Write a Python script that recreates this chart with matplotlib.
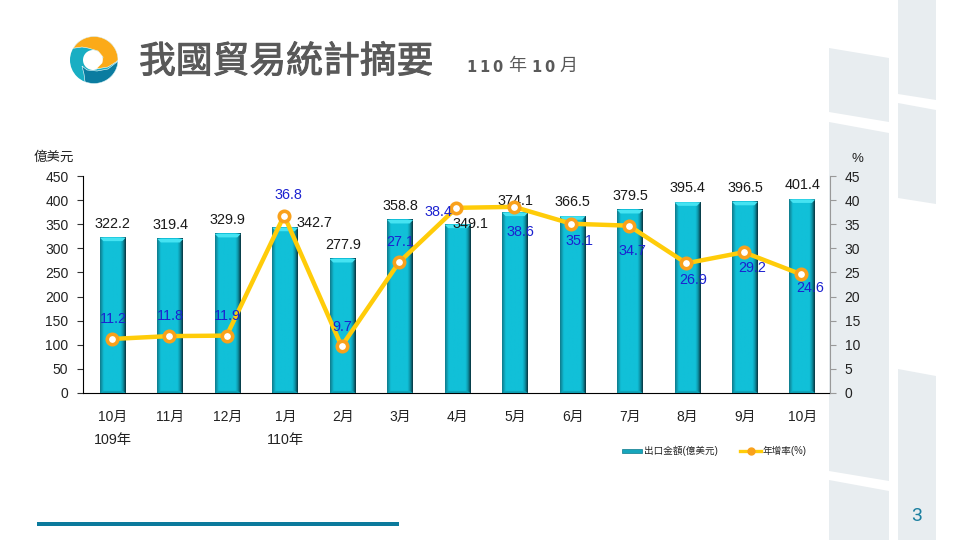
import numpy as np
import matplotlib
matplotlib.use("Agg")
import matplotlib.pyplot as plt
import matplotlib.patheffects as pe
from matplotlib.colors import LinearSegmentedColormap
from matplotlib.lines import Line2D
from matplotlib.patches import Patch, Polygon, Ellipse, Rectangle

plt.rcParams['font.family'] = ['Liberation Sans', 'Noto Sans CJK TC']

months = ['10月', '11月', '12月', '1月', '2月', '3月', '4月', '5月', '6月', '7月', '8月', '9月', '10月']
exports = [322.2, 319.4, 329.9, 342.7, 277.9, 358.8, 349.1, 374.1, 366.5, 379.5, 395.4, 396.5, 401.4]
growth = [11.2, 11.8, 11.9, 36.8, 9.7, 27.1, 38.4, 38.6, 35.1, 34.7, 26.9, 29.2, 24.6]
# label offsets from the mark, in pixels (dx, dy upward)
export_off = [(0, 14), (0, 14), (0, 14), (29, 5), (0, 14), (0, 14), (13, 1), (0, 12), (0, 14), (0, 14), (0, 14), (0, 14), (0, 14)]
growth_off = [(0, 20), (0, 20), (0, 20), (3, 21), (0, 19), (0, 20), (-19, -4), (5, -25), (7, -17), (2, -25), (6, -17), (7, -16), (8, -14)]

W, H = 960, 540
fig = plt.figure(figsize=(W / 100, H / 100), dpi=100, facecolor='white')

# page background: side panels, logo, title
bg = fig.add_axes([0, 0, 1, 1], zorder=0)
bg.set_xlim(0, W)
bg.set_ylim(H, 0)
bg.axis('off')

panel = '#E8EDF0'
panels = [
    [(829, 48), (889, 58), (889, 122), (829, 112)],
    [(829, 122), (889, 133), (889, 481), (829, 471)],
    [(829, 480), (889, 491), (889, 540), (829, 540)],
    [(898, 0), (936, 0), (936, 100), (898, 94)],
    [(898, 103), (936, 110), (936, 204), (898, 198)],
    [(898, 369), (936, 376), (936, 540), (898, 540)],
]
for p in panels:
    bg.add_patch(Polygon(p, closed=True, fc=panel, ec='none'))

# logo
bg.add_patch(Ellipse((94, 60), 48, 47, fc='#19AEC3', ec='none'))
bg.add_patch(Ellipse((93, 60), 20, 20, fc='white', ec='none'))
t = np.radians(np.linspace(150, 0, 40))
outer = np.c_[94 + 24 * np.cos(t), 60 - 23.5 * np.sin(t)]
inner = [(116, 62), (108, 67), (96, 69), (102, 63), (103, 57), (98, 51), (88, 48), (82, 47)]
bg.add_patch(Polygon(np.vstack([outer, inner]), closed=True, fc='#FBAA19', ec='white', lw=0.4))
t = np.radians(np.linspace(-3, -112, 40))
outer = np.c_[94 + 24 * np.cos(t), 60 - 23.5 * np.sin(t)]
inner = [(84, 74), (82, 66), (87, 70), (97, 71), (108, 69)]
bg.add_patch(Polygon(np.vstack([outer, inner]), closed=True, fc='#0B7CA0', ec='white', lw=0.4))

title = bg.text(139, 62, '我國貿易統計摘要', fontsize=26.5, color='#595959', va='center', family='Noto Sans CJK TC')
title.set_path_effects([pe.withStroke(linewidth=0.7, foreground='#595959')])
for xp, s in [(471, '1'), (484, '1'), (497, '0'), (536, '1'), (549, '0')]:
    bg.text(xp, 67, s, fontsize=10.5, color='#595959', weight='bold', ha='center', va='center', family='DejaVu Sans')
bg.text(517, 66, '年', fontsize=13, color='#595959', ha='center', va='center', family='Noto Sans CJK TC')
bg.text(568, 66, '月', fontsize=13, color='#595959', ha='center', va='center', family='Noto Sans CJK TC')

bg.add_patch(Rectangle((37, 522), 362, 4, fc='#0B7A9C', ec='none'))
bg.text(917, 516, '3', fontsize=14, color='#1B7F9F', ha='center', va='center', family=['Liberation Sans Narrow', 'Roboto'])

# chart
ax = fig.add_axes([83 / W, 1 - 393 / H, 747 / W, 217 / H], zorder=1)
ax.patch.set_alpha(0)
x = np.arange(len(exports))
w = 0.45
bars = ax.bar(x, exports, width=w, color='#11C0D8', zorder=2)

shade = LinearSegmentedColormap.from_list('bar', [(0, '#0F7F90'), (0.14, '#11C0D8'), (0.8, '#11C0D8'),
                                                  (0.9, '#0D93A6'), (1, '#083C48')])
grad = np.linspace(0, 1, 32).reshape(1, -1)
for b, v in zip(bars, exports):
    left = b.get_x()
    ax.imshow(grad, cmap=shade, aspect='auto', extent=(left, left + w, 0, v), zorder=2.1)
    bevel = 3.5 * 450 / 217
    inset = 0.06
    ax.add_patch(Polygon([(left, v), (left + w, v), (left + w - inset, v - bevel), (left + inset, v - bevel)],
                         closed=True, fc='#45E3F2', ec='none', zorder=2.2))
    ax.add_patch(Polygon([(left, 0), (left + w, 0), (left + w - inset, bevel * 0.6), (left + inset, bevel * 0.6)],
                         closed=True, fc='#10A5BA', ec='none', zorder=2.2))

ax.set_xlim(-0.52, 12.48)
ax.set_ylim(0, 450)
ax.set_yticks(range(0, 451, 50))
ax.set_xticks(x)
ax.set_xticklabels(months)
ax.tick_params(axis='y', length=4.5, width=0.8, pad=6, labelsize=10, color='#333333', labelcolor='#222222')
ax.tick_params(axis='x', length=0, pad=12.5, labelsize=10, labelcolor='#222222')
for s in ['top', 'right']:
    ax.spines[s].set_visible(False)

ax2 = ax.twinx()
ax2.set_zorder(2)
ax2.patch.set_alpha(0)
# the line sits about a pixel left of the bars in the original
ax2.plot(x - 0.02, growth, color='#FFCC09', lw=3.2, marker='o', ms=7.5, mfc='white', mec='#F9A11B', mew=2.6,
         solid_capstyle='round', zorder=3)
ax2.set_ylim(0, 45)
ax2.set_yticks(range(0, 46, 5))
ax2.tick_params(axis='y', length=4.5, width=0.8, pad=6, labelsize=10, color='#999999', labelcolor='#222222')
for s in ['top', 'left', 'bottom']:
    ax2.spines[s].set_visible(False)
ax2.spines['right'].set_color('#999999')

for i, v in enumerate(exports):
    ax.annotate(f'{v:.1f}', (i, v), xytext=export_off[i], textcoords='offset pixels', ha='center', va='center',
                fontsize=10.4, color='#1a1a1a', zorder=5, annotation_clip=False)
for i, v in enumerate(growth):
    ax2.annotate(f'{v:.1f}', (i, v), xytext=growth_off[i], textcoords='offset pixels', ha='center', va='center',
                 fontsize=10.4, color='#1C22D0', zorder=5, annotation_clip=False)

bg.text(54, 158, '億美元', fontsize=9.7, color='#222222', ha='center', va='center')
bg.text(857, 159, '%', fontsize=9.5, color='#222222', ha='center', va='center')
bg.text(113, 440, '109年', fontsize=10.3, color='#222222', ha='center', va='center')
bg.text(285, 440, '110年', fontsize=10.3, color='#222222', ha='center', va='center')

handles = [Patch(fc='#16A6BC', ec='#0B7A8C', lw=0.5),
           Line2D([], [], color='#FFCC09', lw=2.4, marker='o', ms=5, mfc='#F9A11B', mec='#F9A11B')]
leg = fig.legend(handles, ['出口金額(億美元)', '年增率(%)'], loc='center', bbox_to_anchor=(714 / W, 1 - 451 / H),
                 ncol=2, frameon=False, fontsize=6.9, handlelength=2.1, handleheight=0.3, handletextpad=0.2,
                 columnspacing=2.4, labelcolor='#222222')

fig.savefig('out.png', dpi=100)
